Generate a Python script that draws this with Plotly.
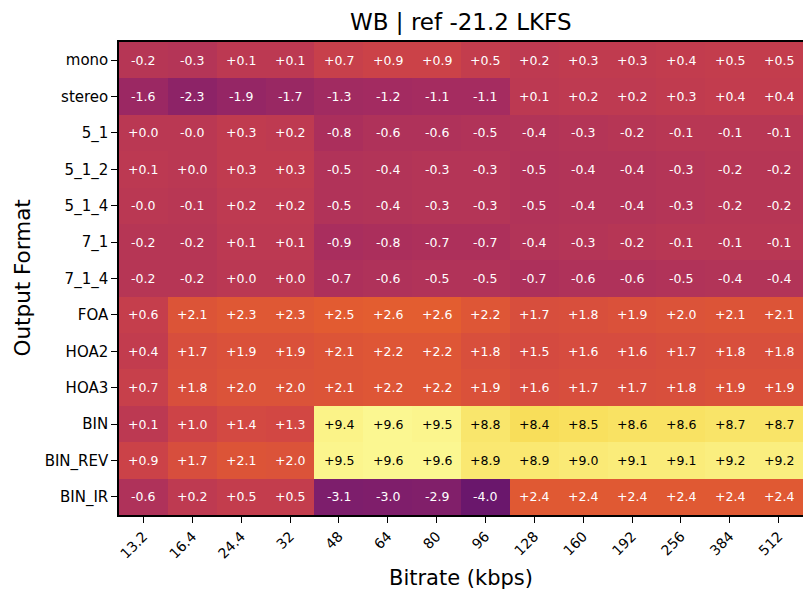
import plotly.graph_objects as go

bitrates = ["13.2", "16.4", "24.4", "32", "48", "64", "80", "96", "128", "160", "192", "256", "384", "512"]
formats = ["mono", "stereo", "5_1", "5_1_2", "5_1_4", "7_1", "7_1_4", "FOA", "HOA2", "HOA3", "BIN", "BIN_REV", "BIN_IR"]

mono = [-0.2, -0.3, 0.1, 0.1, 0.7, 0.9, 0.9, 0.5, 0.2, 0.3, 0.3, 0.4, 0.5, 0.5]
stereo = [-1.6, -2.3, -1.9, -1.7, -1.3, -1.2, -1.1, -1.1, 0.1, 0.2, 0.2, 0.3, 0.4, 0.4]
f5_1 = [0.0, -0.02, 0.3, 0.2, -0.8, -0.6, -0.6, -0.5, -0.4, -0.3, -0.2, -0.1, -0.1, -0.1]
f5_1_2 = [0.1, 0.0, 0.3, 0.3, -0.5, -0.4, -0.3, -0.3, -0.5, -0.4, -0.4, -0.3, -0.2, -0.2]
f5_1_4 = [-0.02, -0.1, 0.2, 0.2, -0.5, -0.4, -0.3, -0.3, -0.5, -0.4, -0.4, -0.3, -0.2, -0.2]
f7_1 = [-0.2, -0.2, 0.1, 0.1, -0.9, -0.8, -0.7, -0.7, -0.4, -0.3, -0.2, -0.1, -0.1, -0.1]
f7_1_4 = [-0.2, -0.2, 0.0, 0.0, -0.7, -0.6, -0.5, -0.5, -0.7, -0.6, -0.6, -0.5, -0.4, -0.4]
foa = [0.6, 2.1, 2.3, 2.3, 2.5, 2.6, 2.6, 2.2, 1.7, 1.8, 1.9, 2.0, 2.1, 2.1]
hoa2 = [0.4, 1.7, 1.9, 1.9, 2.1, 2.2, 2.2, 1.8, 1.5, 1.6, 1.6, 1.7, 1.8, 1.8]
hoa3 = [0.7, 1.8, 2.0, 2.0, 2.1, 2.2, 2.2, 1.9, 1.6, 1.7, 1.7, 1.8, 1.9, 1.9]
binaural = [0.1, 1.0, 1.4, 1.3, 9.4, 9.6, 9.5, 8.8, 8.4, 8.5, 8.6, 8.6, 8.7, 8.7]
bin_rev = [0.9, 1.7, 2.1, 2.0, 9.5, 9.6, 9.6, 8.9, 8.9, 9.0, 9.1, 9.1, 9.2, 9.2]
bin_ir = [-0.6, 0.2, 0.5, 0.5, -3.1, -3.0, -2.9, -4.0, 2.4, 2.4, 2.4, 2.4, 2.4, 2.4]

z = [mono, stereo, f5_1, f5_1_2, f5_1_4, f7_1, f7_1_4, foa, hoa2, hoa3, binaural, bin_rev, bin_ir]

FONT = "DejaVu Sans"
xi = list(range(len(bitrates)))
yi = list(range(len(formats)))

W, H = 803, 593
L, T, R, B = 119, 42, 0, 78
PW = W - L - R
PH = H - T - B

fig = go.Figure()
fig.add_trace(go.Heatmap(
    z=z, x=xi, y=yi,
    colorscale="Inferno", zmin=-10, zmax=10,
    showscale=False, xgap=0, ygap=0,
    hoverinfo="skip",
))

annotations = []
for r in yi:
    for c in xi:
        v = z[r][c]
        annotations.append(dict(
            x=c, y=r, text=f"{v:+.1f}", showarrow=False,
            font=dict(family=FONT, size=12.5, color="black" if v > 5 else "white"),
            xref="x", yref="y",
        ))

annotations.append(dict(
    text="WB | ref -21.2 LKFS", xref="paper", yref="paper", x=0.5, y=1 + (T - 22) / PH,
    xanchor="center", yanchor="middle", showarrow=False, font=dict(family=FONT, size=23),
))
annotations.append(dict(
    text="Bitrate (kbps)", xref="paper", yref="paper", x=0.5, y=-(578 - (H - B)) / PH,
    xanchor="center", yanchor="middle", showarrow=False, font=dict(family=FONT, size=21),
))
annotations.append(dict(
    text="Output Format", xref="paper", yref="paper", x=(22 - L) / PW, y=0.5,
    xanchor="center", yanchor="middle", showarrow=False, textangle=-90,
    font=dict(family=FONT, size=21.5),
))

fig.update_layout(
    width=W, height=H,
    margin=dict(l=L, r=R, t=T, b=B),
    paper_bgcolor="white", plot_bgcolor="white",
    font=dict(family=FONT, color="black"),
    annotations=annotations,
)
fig.update_xaxes(
    range=[-0.5, len(bitrates) - 0.5], tickmode="array", tickvals=xi, ticktext=bitrates,
    tickangle=-45, ticks="outside", ticklen=6, tickwidth=1.2, tickcolor="black",
    tickfont=dict(size=14), showline=True, linecolor="black", linewidth=1.5, mirror=True,
    showgrid=False, zeroline=False, automargin=False,
)
fig.update_yaxes(
    range=[len(formats) - 0.5, -0.5], tickmode="array", tickvals=yi, ticktext=formats,
    ticks="outside", ticklen=6, tickwidth=1.2, tickcolor="black",
    tickfont=dict(size=15), showline=True, linecolor="black", linewidth=1.5, mirror=True,
    showgrid=False, zeroline=False, automargin=False,
)

fig.write_html(
    "out.html",
    config={"displayModeBar": False},
    post_script="document.body.style.margin='0';document.body.style.overflow='hidden';"
                "document.documentElement.style.overflow='hidden';",
)
